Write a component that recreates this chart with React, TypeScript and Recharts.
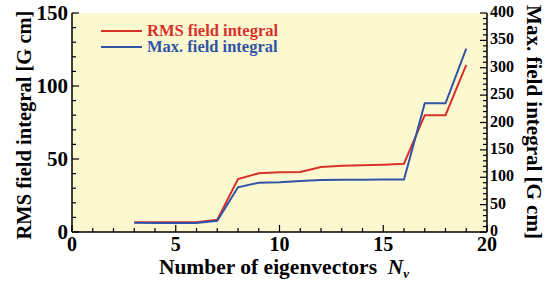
import { LineChart, Line, XAxis, YAxis, CartesianGrid } from "recharts";

const nv = [3, 4, 5, 6, 7, 8, 9, 10, 11, 12, 13, 14, 15, 16, 17, 18, 19];
const rmsIntegral = [6.6, 6.7, 6.7, 6.7, 8.4, 36.3, 40.2, 41, 41.1, 44.5, 45.4, 45.7, 46.1, 46.8, 80, 80, 114.5];
const maxIntegral = [16.8, 16.4, 16.4, 16.6, 20.6, 81.6, 90, 90.7, 93, 95, 95.5, 95.5, 96, 96, 235, 235, 335];
const seriesNames = ["RMS field integral", "Max. field integral"];

const xTicks = Array.from({ length: 21 }, (_, i) => i);
const leftTicks = Array.from({ length: 16 }, (_, i) => i * 10);
const rightTicks = Array.from({ length: 41 }, (_, i) => i * 10);

const RED = "#d8302b";
const BLUE = "#2f54a6";
const FONT = "'Liberation Serif', 'Times New Roman', serif";

const data = nv.map((n, i) => ({ n, rms: rmsIntegral[i], max: maxIntegral[i] }));

function BottomTick({ x, y, payload }: any) {
  const major = payload.value % 5 === 0;
  return (
    <g>
      <line x1={x} x2={x} y1={y} y2={y - (major ? 7 : 4)} stroke="#000" strokeWidth={1.2} />
      {major && (
        <text x={x} y={y + 19} textAnchor="middle" fontFamily={FONT} fontWeight="bold" fontSize={20} fill="#000">
          {payload.value}
        </text>
      )}
    </g>
  );
}

function TopTick({ x, y, payload }: any) {
  const major = payload.value % 5 === 0;
  return <line x1={x} x2={x} y1={y} y2={y + (major ? 7 : 4)} stroke="#000" strokeWidth={1.2} />;
}

function LeftTick({ x, y, payload }: any) {
  const major = payload.value % 50 === 0;
  return (
    <g>
      <line x1={x} x2={x + (major ? 7 : 4)} y1={y} y2={y} stroke="#000" strokeWidth={1.2} />
      {major && (
        <text x={x - 4} y={y + 7} textAnchor="end" fontFamily={FONT} fontWeight="bold" fontSize={21} fill="#000">
          {payload.value}
        </text>
      )}
    </g>
  );
}

function RightTick({ x, y, payload }: any) {
  const major = payload.value % 50 === 0;
  return (
    <g>
      <line x1={x} x2={x - (major ? 7 : 4)} y1={y} y2={y} stroke="#000" strokeWidth={1.2} />
      {major && (
        <text x={x + 3} y={y + 4} textAnchor="start" fontFamily={FONT} fontWeight="bold" fontSize={16} fill="#000">
          {payload.value}
        </text>
      )}
    </g>
  );
}

export default function App() {
  const legendColors = [RED, BLUE];
  return (
    <div style={{ position: "absolute", left: 0, top: 0, width: 558, height: 286, background: "#fff" }}>
      <LineChart width={558} height={286} data={data} margin={{ top: 13, right: 0, left: 0, bottom: 0 }}>
        <CartesianGrid fill="#fcf9d1" horizontal={false} vertical={false} />
        <XAxis
          xAxisId="bottom"
          dataKey="n"
          type="number"
          domain={[0, 20]}
          ticks={xTicks}
          interval={0}
          height={54}
          tickSize={0}
          tickMargin={0}
          tickLine={false}
          tick={<BottomTick />}
          axisLine={{ stroke: "#000", strokeWidth: 1.5 }}
        />
        <XAxis
          xAxisId="top"
          orientation="top"
          dataKey="n"
          type="number"
          domain={[0, 20]}
          ticks={xTicks}
          interval={0}
          height={0}
          tickSize={0}
          tickMargin={0}
          tickLine={false}
          tick={<TopTick />}
          axisLine={{ stroke: "#000", strokeWidth: 1.5 }}
        />
        <YAxis
          yAxisId="left"
          domain={[0, 150]}
          ticks={leftTicks}
          interval={0}
          width={72}
          tickSize={0}
          tickMargin={0}
          tickLine={false}
          tick={<LeftTick />}
          axisLine={{ stroke: "#000", strokeWidth: 1.5 }}
        />
        <YAxis
          yAxisId="right"
          orientation="right"
          domain={[0, 400]}
          ticks={rightTicks}
          interval={0}
          width={71}
          tickSize={0}
          tickMargin={0}
          tickLine={false}
          tick={<RightTick />}
          axisLine={{ stroke: "#000", strokeWidth: 1.5 }}
        />
        <Line
          xAxisId="bottom"
          yAxisId="left"
          dataKey="rms"
          name={seriesNames[0]}
          type="linear"
          stroke={RED}
          strokeWidth={2}
          dot={false}
          isAnimationActive={false}
        />
        <Line
          xAxisId="bottom"
          yAxisId="right"
          dataKey="max"
          name={seriesNames[1]}
          type="linear"
          stroke={BLUE}
          strokeWidth={2}
          dot={false}
          isAnimationActive={false}
        />
        {seriesNames.map((label, i) => (
          <g key={label}>
            <line x1={101} x2={142} y1={31 + i * 16} y2={31 + i * 16} stroke={legendColors[i]} strokeWidth={2} />
            <text x={147} y={36 + i * 16} fontFamily={FONT} fontWeight="bold" fontSize={16.5} fill={legendColors[i]}>
              {label}
            </text>
          </g>
        ))}
        <text x={284} y={274} textAnchor="middle" fontFamily={FONT} fontWeight="bold" fontSize={21.5} fill="#000">
          Number of eigenvectors{"\u00a0\u00a0"}
          <tspan fontStyle="italic">N</tspan>
          <tspan fontStyle="italic" fontSize={13} dy={4}>v</tspan>
        </text>
        <text
          x={0}
          y={0}
          transform="translate(31,125) rotate(-90)"
          textAnchor="middle"
          fontFamily={FONT}
          fontWeight="bold"
          fontSize={20.5}
          fill="#000"
        >
          RMS field integral [G cm]
        </text>
        <text
          x={0}
          y={0}
          transform="translate(527,122) rotate(90)"
          textAnchor="middle"
          fontFamily={FONT}
          fontWeight="bold"
          fontSize={21}
          fill="#000"
        >
          Max. field integral [G cm]
        </text>
      </LineChart>
    </div>
  );
}
